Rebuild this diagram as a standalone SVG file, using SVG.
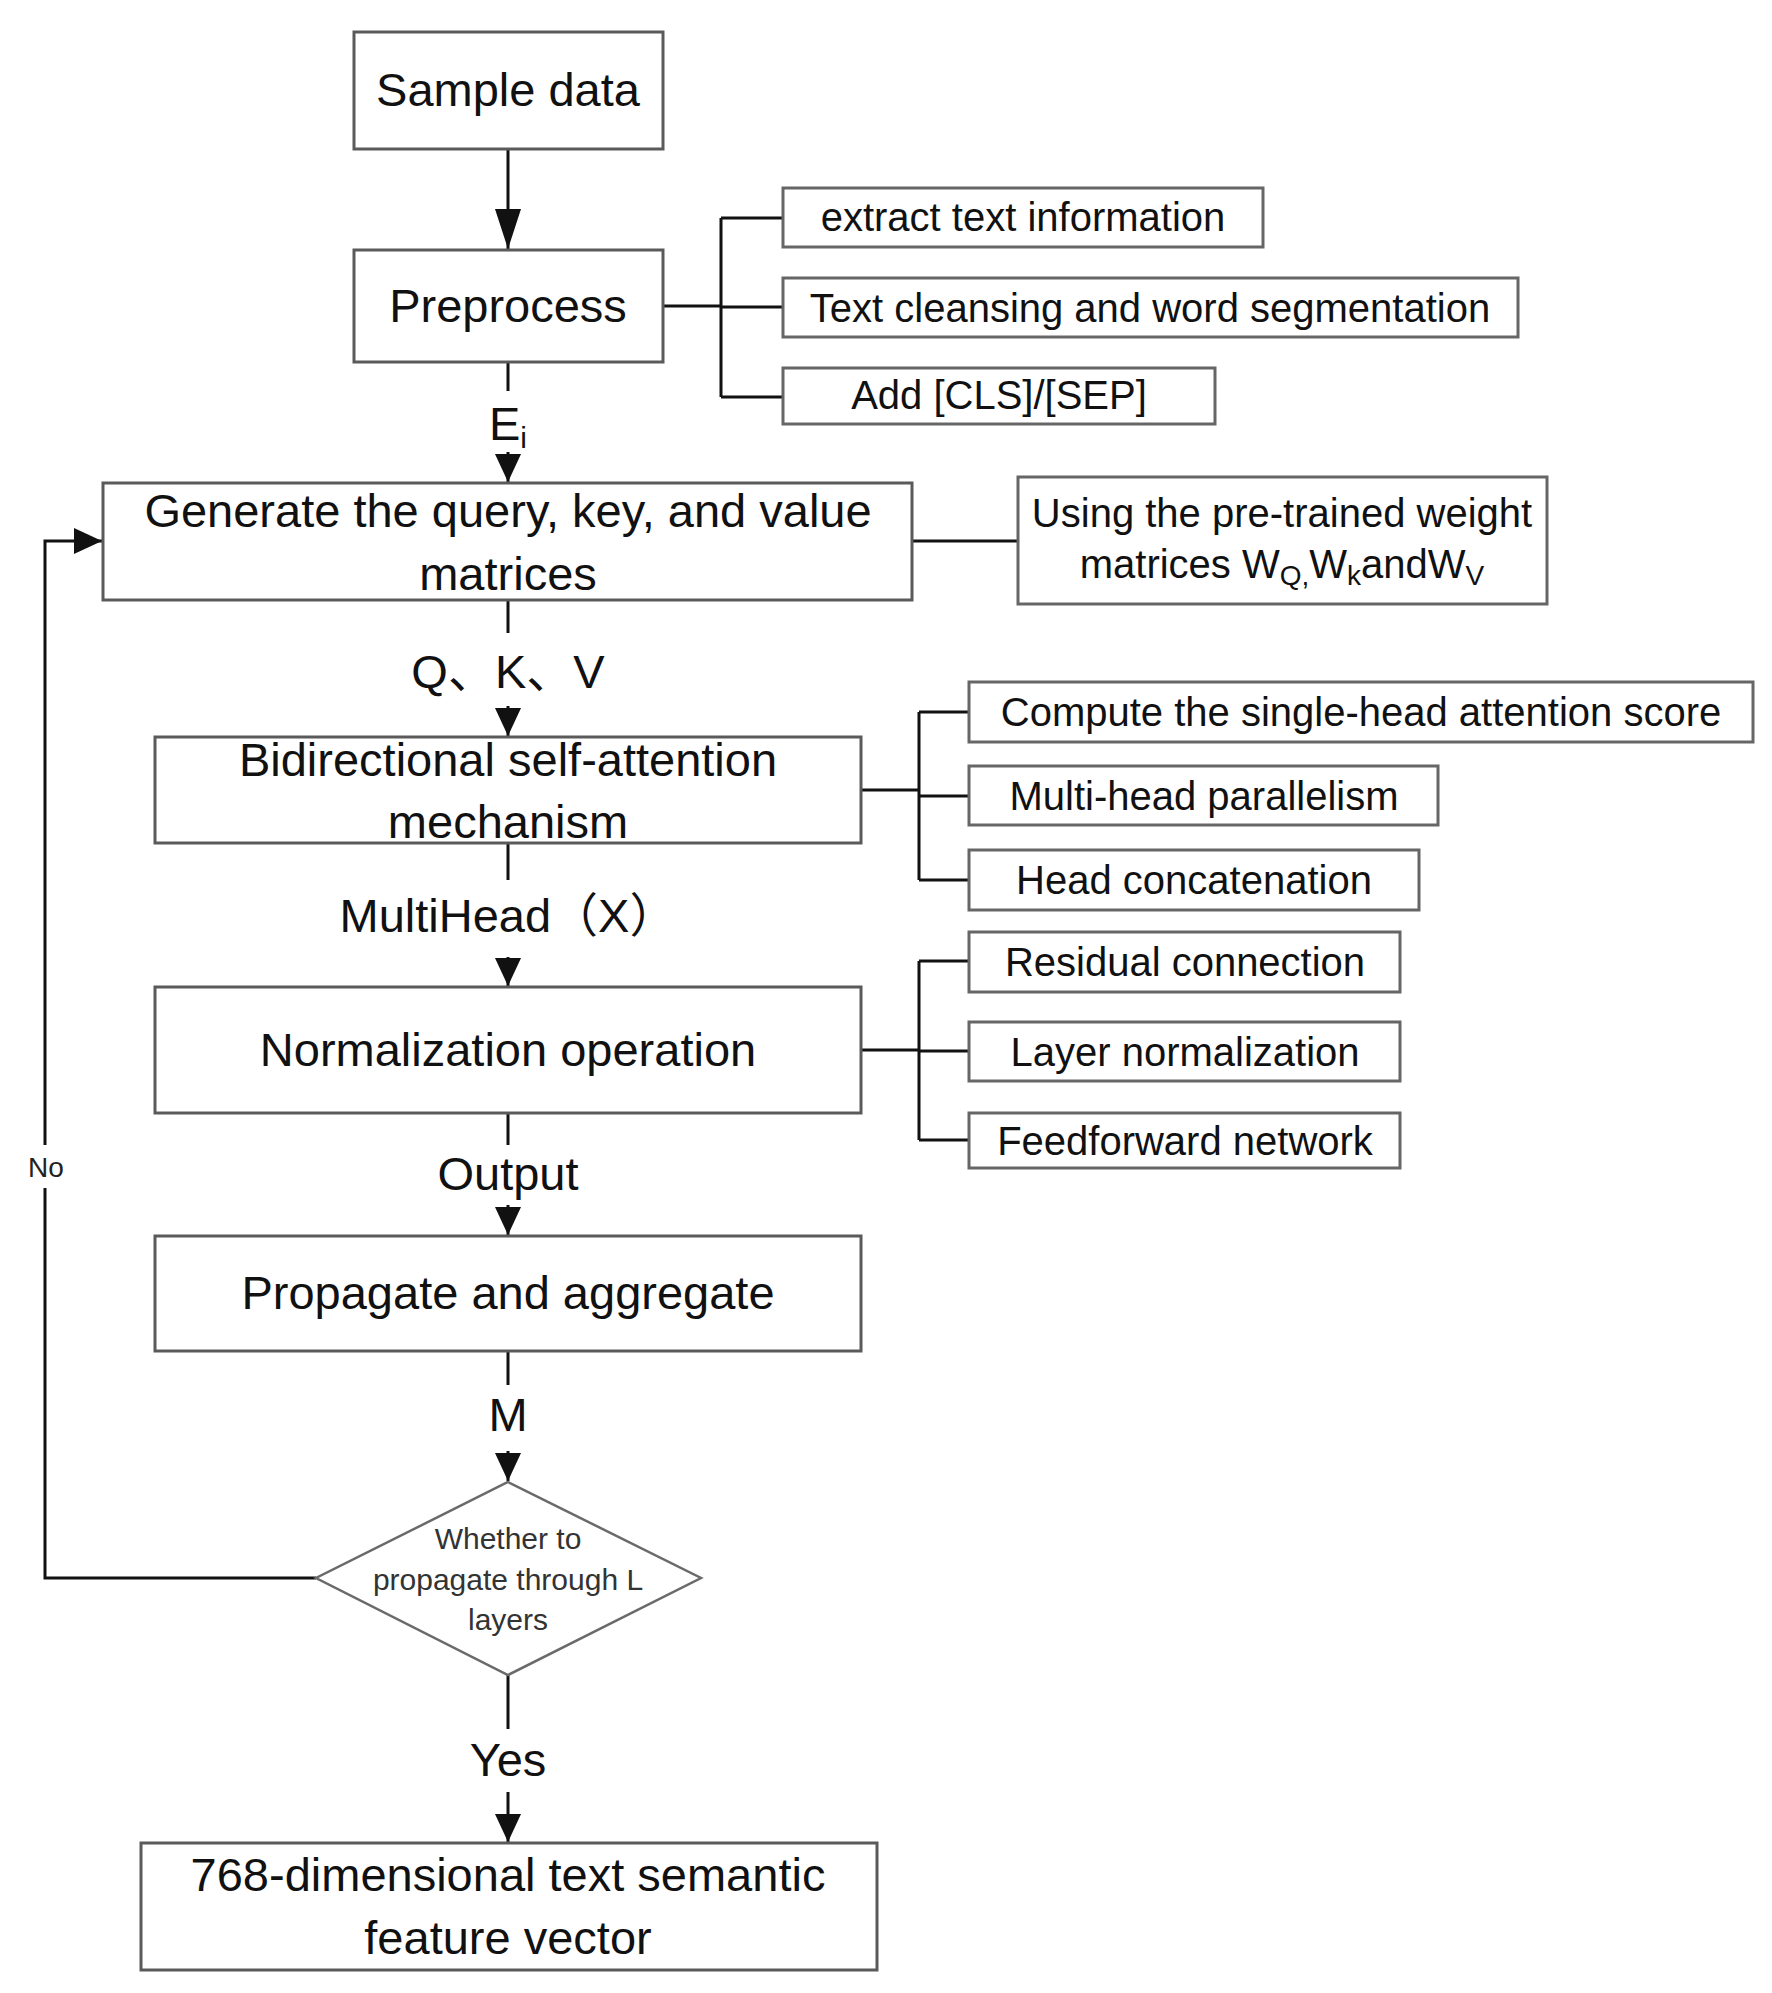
<svg xmlns="http://www.w3.org/2000/svg" width="1772" height="1993" viewBox="0 0 1772 1993">
<style>
.box{fill:#fff;stroke:#5a5a5a;stroke-width:3}
.sub{fill:#fff;stroke:#666;stroke-width:3}
.dia{fill:#fff;stroke:#6a6a6a;stroke-width:2.5}
.t{font-family:"Liberation Sans","Noto Sans CJK SC",sans-serif;font-size:47px;fill:#111;text-anchor:middle}
.s{font-family:"Liberation Sans",sans-serif;font-size:40px;fill:#111;text-anchor:middle}
.d{font-family:"Liberation Sans",sans-serif;font-size:30px;fill:#333;text-anchor:middle}
.no{font-family:"Liberation Sans",sans-serif;font-size:28px;fill:#222;text-anchor:middle}
.c{fill:none;stroke:#111;stroke-width:3}
</style>
<defs>
<marker id="ah" markerUnits="userSpaceOnUse" markerWidth="30" markerHeight="30" viewBox="0 0 30 30" refX="28" refY="15" orient="auto">
<path d="M0,2 L28,15 L0,28 Z" fill="#111"/>
</marker>
<marker id="ahL" markerUnits="userSpaceOnUse" markerWidth="42" markerHeight="30" viewBox="0 0 42 30" refX="40" refY="15" orient="auto">
<path d="M0,2 L40,15 L0,28 Z" fill="#111"/>
</marker>
</defs>
<rect width="1772" height="1993" fill="#fff"/>

<g id="connectors">
<path class="c" d="M508,149 V249" marker-end="url(#ahL)"/>
<path class="c" d="M508,362 V391"/>
<path class="c" d="M508,452 V482" marker-end="url(#ah)"/>
<path class="c" d="M508,600 V633"/>
<path class="c" d="M508,706 V736" marker-end="url(#ah)"/>
<path class="c" d="M508,843 V880"/>
<path class="c" d="M508,957 V986" marker-end="url(#ah)"/>
<path class="c" d="M508,1113 V1145"/>
<path class="c" d="M508,1205 V1235" marker-end="url(#ah)"/>
<path class="c" d="M508,1351 V1385"/>
<path class="c" d="M508,1451 V1481" marker-end="url(#ah)"/>
<path class="c" d="M508,1675 V1729"/>
<path class="c" d="M508,1792 V1842" marker-end="url(#ah)"/>
<path class="c" d="M316,1578 H45 V1188"/>
<path class="c" d="M45,1145 V541 H102" marker-end="url(#ah)"/>
<path class="c" d="M663,306 H721 M721,218 V397 M721,218 H783 M721,307 H783 M721,397 H783"/>
<path class="c" d="M912,541 H1018"/>
<path class="c" d="M861,790 H919 M919,712 V880 M919,712 H969 M919,796 H969 M919,880 H969"/>
<path class="c" d="M861,1050 H919 M919,961 V1140 M919,961 H969 M919,1051 H969 M919,1140 H969"/>
</g>

<g id="labels">
<text class="t" x="508" y="440">E<tspan font-size="30" dy="8">i</tspan></text>
<text class="t" x="508" y="688">Q、K、V</text>
<text class="t" x="508" y="932">MultiHead（X）</text>
<text class="t" x="508" y="1190">Output</text>
<text class="t" x="508" y="1431">M</text>
<text class="t" x="508" y="1776">Yes</text>
<text class="no" x="46" y="1177">No</text>
</g>

<g id="sample-data">
<rect class="box" x="354" y="32" width="309" height="117"/>
<text class="t" x="508" y="106">Sample data</text>
</g>
<g id="preprocess">
<rect class="box" x="354" y="250" width="309" height="112"/>
<text class="t" x="508" y="322">Preprocess</text>
</g>
<g id="extract">
<rect class="sub" x="783" y="188" width="480" height="59"/>
<text class="s" x="1023" y="231">extract text information</text>
</g>
<g id="cleansing">
<rect class="sub" x="783" y="278" width="735" height="59"/>
<text class="s" x="1150" y="322">Text cleansing and word segmentation</text>
</g>
<g id="add-cls">
<rect class="sub" x="783" y="368" width="432" height="56"/>
<text class="s" x="999" y="409">Add [CLS]/[SEP]</text>
</g>
<g id="generate">
<rect class="box" x="103" y="483" width="809" height="117"/>
<text class="t" x="508" y="527">Generate the query, key, and value</text>
<text class="t" x="508" y="590">matrices</text>
</g>
<g id="weights">
<rect class="sub" x="1018" y="477" width="529" height="127"/>
<text class="s" x="1282" y="527">Using the pre-trained weight</text>
<text class="s" x="1282" y="578">matrices W<tspan font-size="28" dy="7">Q,</tspan><tspan dy="-7">W</tspan><tspan font-size="28" dy="7">k</tspan><tspan dy="-7">andW</tspan><tspan font-size="28" dy="7">V</tspan></text>
</g>
<g id="attention">
<rect class="box" x="155" y="737" width="706" height="106"/>
<text class="t" x="508" y="776">Bidirectional self-attention</text>
<text class="t" x="508" y="838">mechanism</text>
</g>
<g id="single-head">
<rect class="sub" x="969" y="682" width="784" height="60"/>
<text class="s" x="1361" y="726">Compute the single-head attention score</text>
</g>
<g id="multi-head">
<rect class="sub" x="969" y="766" width="469" height="59"/>
<text class="s" x="1204" y="810">Multi-head parallelism</text>
</g>
<g id="head-concat">
<rect class="sub" x="969" y="850" width="450" height="60"/>
<text class="s" x="1194" y="894">Head concatenation</text>
</g>
<g id="normalization">
<rect class="box" x="155" y="987" width="706" height="126"/>
<text class="t" x="508" y="1066">Normalization operation</text>
</g>
<g id="residual">
<rect class="sub" x="969" y="932" width="431" height="60"/>
<text class="s" x="1185" y="976">Residual connection</text>
</g>
<g id="layer-norm">
<rect class="sub" x="969" y="1022" width="431" height="59"/>
<text class="s" x="1185" y="1066">Layer normalization</text>
</g>
<g id="feedforward">
<rect class="sub" x="969" y="1113" width="431" height="55"/>
<text class="s" x="1185" y="1155">Feedforward network</text>
</g>
<g id="propagate">
<rect class="box" x="155" y="1236" width="706" height="115"/>
<text class="t" x="508" y="1309">Propagate and aggregate</text>
</g>
<g id="decision">
<polygon class="dia" points="508,1482 701,1578 508,1675 316,1578"/>
<text class="d" x="508" y="1549">Whether to</text>
<text class="d" x="508" y="1590">propagate through L</text>
<text class="d" x="508" y="1630">layers</text>
</g>
<g id="output-vector">
<rect class="box" x="141" y="1843" width="736" height="127"/>
<text class="t" x="508" y="1891">768-dimensional text semantic</text>
<text class="t" x="508" y="1954">feature vector</text>
</g>
</svg>
